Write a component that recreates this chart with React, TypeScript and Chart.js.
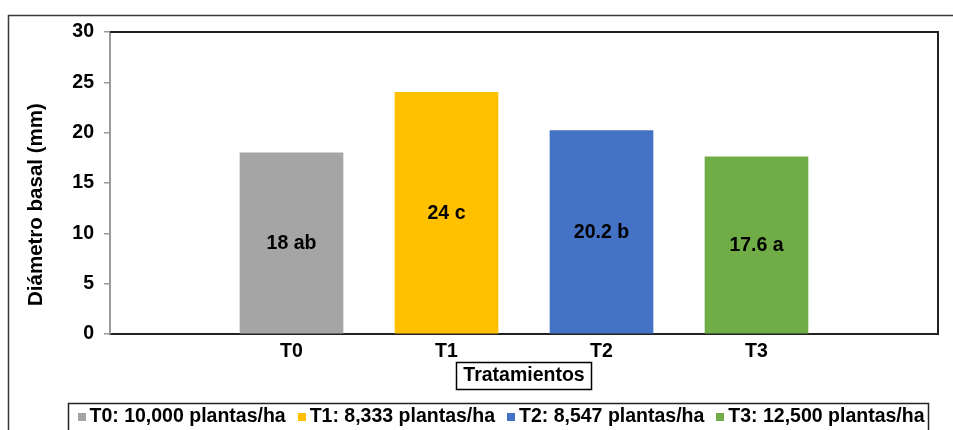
import React, { useEffect, useRef } from 'react';
import { Chart, registerables } from 'chart.js';

Chart.register(...registerables);

// Treatments and their mean basal diameter (mm) with significance groups
const categories = ['T0', 'T1', 'T2', 'T3'];
const diameters = [18, 24, 20.2, 17.6];
const groups = ['ab', 'c', 'b', 'a'];
const densities = ['10,000', '8,333', '8,547', '12,500'];
const barColors = ['#A5A5A5', '#FFC000', '#4472C4', '#70AD47'];

const yMin = 0;
const yMax = 30;
const yStep = 5;
const xMin = -1.171;
const xMax = 4.171;

const yTitle = 'Diámetro basal (mm)';
const xTitle = 'Tratamientos';

const FAMILY = '"Liberation Sans", Arial, Helvetica, sans-serif';
const FONT_PX = 19.5;
const font = { family: FAMILY, size: FONT_PX, weight: 'bold' as const };
const cssFont = `bold ${FONT_PX}px ${FAMILY}`;

const decorations = {
  id: 'decorations',
  afterDatasetsDraw(chart: any) {
    const ctx = chart.ctx as CanvasRenderingContext2D;
    ctx.save();
    ctx.font = cssFont;
    ctx.fillStyle = '#000';
    ctx.textAlign = 'center';
    ctx.textBaseline = 'middle';
    chart.data.datasets.forEach((_: any, i: number) => {
      const bar = chart.getDatasetMeta(i).data[0];
      if (!bar) return;
      const { x, y, base } = bar.getProps(['x', 'y', 'base'], true);
      ctx.fillText(`${diameters[i]} ${groups[i]}`, x, (y + base) / 2 + 1);
    });
    ctx.restore();
  },
  afterDraw(chart: any) {
    const ctx = chart.ctx as CanvasRenderingContext2D;
    const a = chart.chartArea;
    ctx.save();

    // top and right edges of the plot frame
    ctx.strokeStyle = '#222';
    ctx.lineWidth = 2;
    ctx.beginPath();
    ctx.moveTo(a.left, a.top);
    ctx.lineTo(a.right, a.top);
    ctx.lineTo(a.right, a.bottom);
    ctx.stroke();

    // outer chart border
    ctx.strokeStyle = '#3a3a3a';
    ctx.lineWidth = 1.5;
    ctx.strokeRect(8.5, 15.5, chart.width + 20, chart.height + 20);

    ctx.fillStyle = '#000';

    // y-axis title
    ctx.save();
    ctx.font = `bold 20.5px ${FAMILY}`;
    ctx.translate(36, 306);
    ctx.rotate(-Math.PI / 2);
    ctx.textAlign = 'left';
    ctx.textBaseline = 'middle';
    ctx.fillText(yTitle, 0, 0);
    ctx.restore();

    ctx.font = cssFont;

    // x-axis title in a box
    const cx = (a.left + a.right) / 2;
    const tw = ctx.measureText(xTitle).width;
    ctx.textAlign = 'center';
    ctx.textBaseline = 'middle';
    ctx.fillText(xTitle, cx, 376);
    ctx.strokeStyle = '#000';
    ctx.lineWidth = 1.5;
    ctx.strokeRect(Math.round(cx - tw / 2 - 7) + 0.5, 362.5, Math.round(tw + 14), 27);

    // legend
    const labels = categories.map((c, i) => `${c}: ${densities[i]} plantas/ha`);
    const sq = 8;
    const sqGap = 4;
    const itemGap = 12;
    const widths = labels.map((l) => ctx.measureText(l).width);
    const total =
      widths.reduce((s, w) => s + w + sq + sqGap, 0) + itemGap * (labels.length - 1);
    const legendCx = 501;
    let lx = legendCx - total / 2;
    const ly = 417;
    ctx.strokeStyle = '#222';
    ctx.lineWidth = 1.5;
    ctx.strokeRect(68.5, 403.5, 860, 30);
    ctx.textAlign = 'left';
    labels.forEach((l, i) => {
      ctx.fillStyle = barColors[i];
      ctx.fillRect(Math.round(lx), ly - sq / 2, sq, sq);
      lx += sq + sqGap;
      ctx.fillStyle = '#000';
      ctx.fillText(l, lx, ly);
      lx += widths[i] + itemGap;
    });

    ctx.restore();
  },
};

export default function App() {
  const canvasRef = useRef<HTMLCanvasElement | null>(null);

  useEffect(() => {
    const canvas = canvasRef.current;
    if (!canvas) return;
    const chart = new Chart(canvas, {
      type: 'bar',
      data: {
        datasets: categories.map((c, i) => ({
          label: `${c}: ${densities[i]} plantas/ha`,
          data: [{ x: i, y: diameters[i] }],
          backgroundColor: barColors[i],
          barThickness: 103,
          grouped: false,
        })) as any,
      },
      options: {
        responsive: false,
        maintainAspectRatio: false,
        animation: false,
        devicePixelRatio: 1,
        layout: { padding: { top: 32, right: 15, left: 0, bottom: 0 } },
        plugins: {
          legend: { display: false },
          tooltip: { enabled: false },
        },
        scales: {
          x: {
            type: 'linear',
            offset: false,
            min: xMin,
            max: xMax,
            afterBuildTicks: (s: any) => {
              s.ticks = categories.map((_, i) => ({ value: i }));
            },
            afterFit: (s: any) => {
              s.height = 96;
            },
            ticks: {
              callback: (v: any) => categories[v as number] ?? '',
              font,
              color: '#000',
              padding: 6,
              autoSkip: false,
              maxRotation: 0,
            },
            grid: { display: false, drawTicks: false, offset: false },
            border: { display: true, color: '#222', width: 2 },
          },
          y: {
            min: yMin,
            max: yMax,
            afterFit: (s: any) => {
              s.width = 110;
            },
            ticks: { stepSize: yStep, font, color: '#000', padding: 10 },
            grid: {
              drawOnChartArea: false,
              drawTicks: true,
              tickLength: 6,
              color: '#999',
              lineWidth: 1.5,
            },
            border: { display: true, color: '#9a9a9a', width: 2 },
          },
        },
      },
      plugins: [decorations],
    });
    return () => chart.destroy();
  }, []);

  return (
    <div style={{ position: 'fixed', left: 0, top: 0, width: 953, height: 430, background: '#fff' }}>
      <canvas ref={canvasRef} width={953} height={430} style={{ display: 'block' }} />
    </div>
  );
}
